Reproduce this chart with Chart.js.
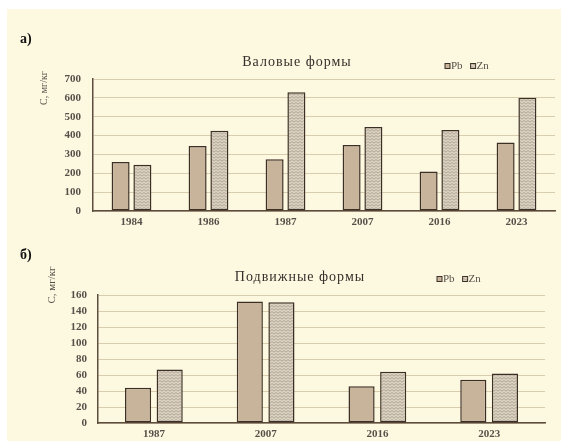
<!DOCTYPE html>
<html>
<head>
<meta charset="utf-8">
<script src="https://cdn.jsdelivr.net/npm/chart.js@4/dist/chart.umd.min.js"></script>
<style>
  html, body { margin: 0; padding: 0; background: #fff; }
  #page { position: relative; width: 561px; height: 441px; overflow: hidden; background: #fff; }
  #panel { position: absolute; left: 7px; top: 9px; right: 0; bottom: 0; background: #FDF8E0; }
  canvas { position: absolute; left: 0; }
  #chartTotal { top: 0; }
  #chartMobile { top: 230px; }
  .tag { position: absolute; font: bold 14px "Liberation Serif", serif; color: #111; }
</style>
</head>
<body>
<div id="page">
  <div id="panel"></div>
  <canvas id="chartTotal" width="561" height="230"></canvas>
  <canvas id="chartMobile" width="561" height="211"></canvas>
  <div class="tag" style="left:20px;top:31px">а)</div>
  <div class="tag" style="left:20px;top:247px">б)</div>
</div>
<script>
// Total (gross) forms, mg/kg
const yearsTotal = ['1984', '1986', '1987', '2007', '2016', '2023'];
const pbTotal = [260, 345, 275, 350, 210, 363];
const znTotal = [245, 425, 630, 445, 430, 600];

// Mobile forms, mg/kg
const yearsMobile = ['1987', '2007', '2016', '2023'];
const pbMobile = [44, 152, 46, 54];
const znMobile = [67, 151, 64, 62];

const seriesNames = ['Pb', 'Zn'];
const titleTotal = 'Валовые формы';
const titleMobile = 'Подвижные формы';
const unitLabel = 'С, мг/кг';

const SERIF = '"Liberation Serif", "Times New Roman", serif';
const PB_FILL = '#C8B49B';
const BAR_EDGE = '#3B2F26';
const GRID = '#DACDAE';
const AXIS = '#5C4D3E';
const TEXT = '#57504A';

// fine zigzag hatch used for the Zn bars
function zigzagPattern() {
  const c = document.createElement('canvas');
  c.width = 4; c.height = 3;
  const g = c.getContext('2d');
  g.fillStyle = '#DCD3C3';
  g.fillRect(0, 0, 4, 3);
  g.strokeStyle = '#A39888';
  g.lineWidth = 0.8;
  g.beginPath();
  g.moveTo(0, 0.5); g.lineTo(2, 2.2); g.lineTo(4, 0.5);
  g.stroke();
  return g.createPattern(c, 'repeat');
}
const ZN_FILL = zigzagPattern();

// title, compact legend and rotated unit label
function decor(o) {
  return {
    id: 'decor',
    afterDraw(chart) {
      const ctx = chart.ctx;
      ctx.save();
      ctx.font = o.titleFont;
      ctx.fillStyle = '#34302B';
      ctx.textAlign = 'center';
      ctx.textBaseline = 'middle';
      ctx.letterSpacing = o.titleSpacing;
      ctx.fillText(o.title, o.titleX, o.titleY);
      ctx.letterSpacing = '0px';

      ctx.font = '11px ' + SERIF;
      ctx.textAlign = 'left';
      let x = o.legendX;
      chart.data.datasets.forEach(ds => {
        ctx.fillStyle = ds.backgroundColor;
        ctx.fillRect(x, o.legendY - 2.5, 5, 5);
        ctx.strokeStyle = BAR_EDGE;
        ctx.lineWidth = 1;
        ctx.strokeRect(x, o.legendY - 2.5, 5, 5);
        ctx.fillStyle = TEXT;
        ctx.fillText(ds.label, x + 6, o.legendY);
        x += 6 + ctx.measureText(ds.label).width + o.legendGap;
      });

      ctx.translate(o.unitX, o.unitY);
      ctx.rotate(-Math.PI / 2);
      ctx.font = o.unitFont;
      ctx.textAlign = 'center';
      ctx.fillStyle = TEXT;
      ctx.fillText(unitLabel, 0, 0);
      ctx.restore();
    }
  };
}

function barChart(id, labels, pb, zn, yMax, yStep, lay, d) {
  return new Chart(document.getElementById(id), {
    type: 'bar',
    data: {
      labels: labels,
      datasets: [
        { label: seriesNames[0], data: pb, backgroundColor: PB_FILL },
        { label: seriesNames[1], data: zn, backgroundColor: ZN_FILL }
      ]
    },
    options: {
      responsive: false,
      animation: false,
      events: [],
      categoryPercentage: 0.566,
      barPercentage: 0.826,
      datasets: { bar: { borderColor: BAR_EDGE, borderWidth: 1.5, borderSkipped: false } },
      layout: { padding: { left: lay.left, right: lay.right, top: lay.top, bottom: 0 } },
      plugins: { legend: { display: false }, tooltip: { enabled: false }, title: { display: false } },
      scales: {
        x: {
          grid: { display: false, drawTicks: false },
          border: { display: true, color: AXIS, width: 1.5 },
          ticks: { color: TEXT, font: { family: SERIF, size: 11, weight: 'bold' }, padding: 5, maxRotation: 0 },
          afterFit(s) { s.height = lay.xh; }
        },
        y: {
          min: 0, max: yMax,
          grid: { color: GRID, lineWidth: 1, drawTicks: false },
          border: { display: true, color: AXIS, width: 1.5 },
          ticks: { stepSize: yStep, autoSkip: false, color: TEXT, font: { family: SERIF, size: 11, weight: 'bold' }, padding: lay.tp },
          afterFit(s) { s.width = 30; }
        }
      }
    },
    plugins: [decor(d)]
  });
}

barChart('chartTotal', yearsTotal, pbTotal, znTotal, 700, 100,
  { left: 63, right: 6, top: 79, xh: 19, tp: 12 },
  { title: titleTotal, titleX: 297, titleY: 62, titleFont: '14px ' + SERIF, titleSpacing: '1px',
    legendX: 445, legendY: 66, legendGap: 8, unitX: 44, unitY: 88, unitFont: '10px ' + SERIF });

barChart('chartMobile', yearsMobile, pbMobile, znMobile, 160, 20,
  { left: 68, right: 16, top: 65, xh: 18, tp: 11 },
  { title: titleMobile, titleX: 300, titleY: 47, titleFont: '14px ' + SERIF, titleSpacing: '1px',
    legendX: 437, legendY: 49, legendGap: 8, unitX: 52, unitY: 55, unitFont: '11px ' + SERIF });
</script>
</body>
</html>
